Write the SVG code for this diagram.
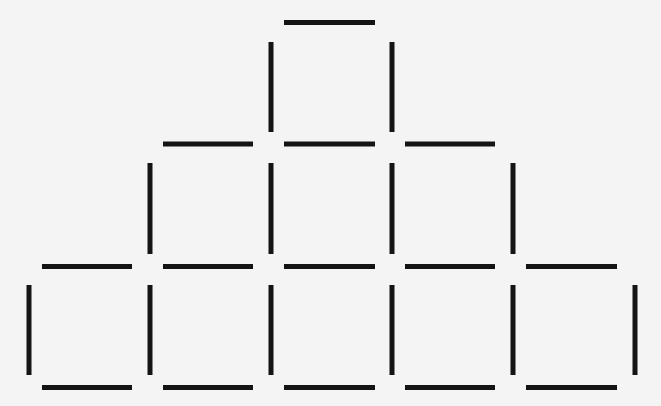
<svg xmlns="http://www.w3.org/2000/svg" width="661" height="406" viewBox="0 0 661 406">
<style>
.h{stroke:#141414;stroke-width:5;stroke-linecap:butt}
.v{stroke:#141414;stroke-width:5;stroke-linecap:butt}
</style>
<rect width="661" height="406" fill="#f4f4f4"/>
<g id="row1">
<line class="h" x1="284" y1="22.5" x2="375" y2="22.5"/>
<line class="v" x1="271" y1="42" x2="271" y2="132"/>
<line class="v" x1="392" y1="42" x2="392" y2="132"/>
</g>
<g id="row2">
<line class="h" x1="163" y1="144" x2="253" y2="144"/>
<line class="h" x1="284" y1="144" x2="375" y2="144"/>
<line class="h" x1="405" y1="144" x2="495" y2="144"/>
<line class="v" x1="150" y1="163" x2="150" y2="254"/>
<line class="v" x1="271" y1="163" x2="271" y2="254"/>
<line class="v" x1="392" y1="163" x2="392" y2="254"/>
<line class="v" x1="513" y1="163" x2="513" y2="254"/>
</g>
<g id="row3">
<line class="h" x1="42" y1="266.5" x2="132" y2="266.5"/>
<line class="h" x1="163" y1="266.5" x2="253" y2="266.5"/>
<line class="h" x1="284" y1="266.5" x2="375" y2="266.5"/>
<line class="h" x1="405" y1="266.5" x2="495" y2="266.5"/>
<line class="h" x1="526" y1="266.5" x2="617" y2="266.5"/>
<line class="v" x1="29" y1="285" x2="29" y2="375"/>
<line class="v" x1="150" y1="285" x2="150" y2="375"/>
<line class="v" x1="271" y1="285" x2="271" y2="375"/>
<line class="v" x1="392" y1="285" x2="392" y2="375"/>
<line class="v" x1="513" y1="285" x2="513" y2="375"/>
<line class="v" x1="635" y1="285" x2="635" y2="375"/>
</g>
<g id="row4">
<line class="h" x1="42" y1="387.5" x2="132" y2="387.5"/>
<line class="h" x1="163" y1="387.5" x2="253" y2="387.5"/>
<line class="h" x1="284" y1="387.5" x2="375" y2="387.5"/>
<line class="h" x1="405" y1="387.5" x2="495" y2="387.5"/>
<line class="h" x1="526" y1="387.5" x2="617" y2="387.5"/>
</g>
</svg>
